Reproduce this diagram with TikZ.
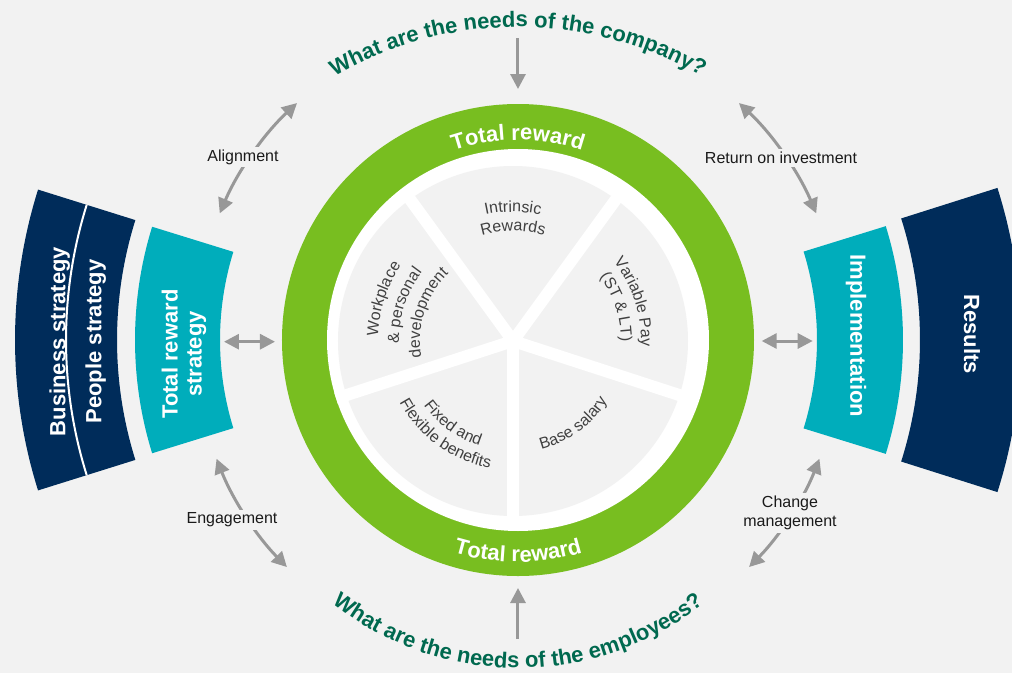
\documentclass[tikz,border=0pt]{standalone}
\usepackage{fontspec}
\setmainfont{Liberation Sans}
\usetikzlibrary{arrows.meta,decorations.text}
\definecolor{bg}{HTML}{F2F2F2}
\definecolor{ringgreen}{HTML}{78BE20}
\definecolor{bandteal}{HTML}{00ADBB}
\definecolor{navy}{HTML}{002C5A}
\definecolor{headgreen}{HTML}{00694F}
\definecolor{arrowgray}{HTML}{989898}
\definecolor{innertext}{HTML}{404040}
\definecolor{labeltext}{HTML}{1A1A1A}
\newcommand{\bandfont}{\fontsize{22}{24}\selectfont\bfseries}
\newcommand{\headfont}{\fontsize{22}{24}\selectfont\bfseries\color{headgreen}}
\newcommand{\ringfont}{\fontsize{22}{24}\selectfont\bfseries\color{white}}
\newcommand{\innerfont}{\fontsize{16}{19}\selectfont\color{innertext}}
\newcommand{\annsec}[5]{\fill[#1] (#2:#4) arc[start angle=#2, end angle=#3, radius=#4pt] -- (#3:#5) arc[start angle=#3, end angle=#2, radius=#5pt] -- cycle;}
\newcommand{\cwtext}[3]{\path[decorate,decoration={text along path,text align=center,text={|\innerfont|#3}}] ([shift={(-5,-1)}]#1+70:#2) arc[start angle=#1+70, end angle=#1-70, radius=#2pt];}
\newcommand{\ccwtext}[3]{\path[decorate,decoration={text along path,text align=center,text={|\innerfont|#3}}] ([shift={(-5,-1)}]#1-70:#2) arc[start angle=#1-70, end angle=#1+70, radius=#2pt];}
\begin{document}
\begin{tikzpicture}[x=1pt,y=1pt,
  conn/.style={draw=arrowgray, line width=3pt, arrows={Triangle[length=15pt,width=15pt]-Triangle[length=15pt,width=15pt]}},
  conntip/.style={draw=arrowgray, line width=3pt, arrows={-Triangle[length=15pt,width=15pt]}},
  lbl/.style={fill=bg, inner sep=3pt, text=labeltext, font=\fontsize{16}{19}\selectfont, align=center},
  bandtext/.style={text=white, font=\bandfont, align=center, inner sep=0pt}]
\fill[bg] (-518,-333) rectangle (494,340);
\useasboundingbox (-518,-333) rectangle (494,340);

% side bands
\annsec{bandteal}{162.8}{197.2}{298}{383}
\annsec{navy}{162.6}{197.4}{401}{503}
\draw[white, line width=2pt] (162.6:452) arc[start angle=162.6, end angle=197.4, radius=452pt];
\annsec{bandteal}{-17.2}{17.2}{299}{385}
\annsec{navy}{-17.6}{17.6}{402}{503}

\node[bandtext, rotate=90, anchor=base] (bus) at (-452.5,-1.5) {Business strategy};
\node[bandtext, rotate=90, anchor=base] (ppl) at (-416.5,-1.5) {People strategy};
\node[bandtext, rotate=90] (trs) at (-334,-14) {Total reward\\strategy};
\node[bandtext, rotate=-90] (impl) at (338,4) {Implementation};
\node[bandtext, rotate=-90] (res) at (454,6) {Results};

% ring
\fill[ringgreen] (0,0) circle[radius=236pt];
\fill[white] (0,0) circle[radius=191pt];
\fill[bg] (-5,-1) circle[radius=175pt];
\foreach \a in {-90,-18,54,126,198} \draw[white, line width=12pt] (-5,-1) -- ++(\a:186);

\path[decorate,decoration={text along path,text align=center,text={|\ringfont|Total reward}}] (150:200) arc[start angle=150, end angle=30, radius=200pt];
\path[decorate,decoration={text along path,text align=center,text={|\ringfont|Total reward}}] (210:222) arc[start angle=210, end angle=330, radius=222pt];

% pie texts
\cwtext{90}{129}{Intrinsic}
\cwtext{90}{110}{Rewards}
\cwtext{18}{128}{Variable Pay}
\cwtext{18}{108}{(ST {\&} LT)}
\cwtext{162}{135}{Workplace}
\cwtext{162}{114}{{\&} personal}
\cwtext{162}{93}{development}
\ccwtext{234}{110}{Fixed and}
\ccwtext{234}{129}{Flexible benefits}
\ccwtext{-54}{112}{Base salary}

% headings
\path[decorate,decoration={text along path,text align=center,text={|\headfont|What are the needs of the company?}}] ([shift={(0,-52)}]140:365) arc[start angle=140, end angle=40, radius=365pt];
\path[decorate,decoration={text along path,text align=center,text={|\headfont|What are the needs of the employees?}}] ([shift={(0,-28)}]220:300) arc[start angle=220, end angle=320, radius=300pt];

% straight arrows
\coordinate (t1) at (0,302);
\coordinate (t2) at (0,251);
\draw[conntip] (t1) -- (t2);
\coordinate (b1) at (0,-299);
\coordinate (b2) at (0,-248);
\draw[conntip] (b1) -- (b2);
\coordinate (l1) at (-294,-1.7);
\coordinate (l2) at (-243,-1.7);
\draw[conn] (l1) -- (l2);
\coordinate (r1) at (243.7,-1);
\coordinate (r2) at (294.7,-1);
\draw[conn] (r1) -- (r2);

% arc arrows
\coordinate (ul) at (133:324);
\draw[conn] (ul) arc[start angle=133, end angle=157, radius=324pt];
\coordinate (ur) at (47:324);
\draw[conn] (ur) arc[start angle=47, end angle=23, radius=324pt];
\coordinate (ll) at (201.5:324);
\draw[conn] (ll) arc[start angle=201.5, end angle=224.5, radius=324pt];
\coordinate (lr) at (338.5:324);
\draw[conn] (lr) arc[start angle=338.5, end angle=315.5, radius=324pt];

\node[lbl] (align) at (-275,183) {Alignment};
\node[lbl] (roi) at (263,182) {Return on investment};
\node[lbl] (eng) at (-286,-180) {Engagement};
\node[lbl] (chg) at (272,-173) {Change\\management};
\end{tikzpicture}
\end{document}
